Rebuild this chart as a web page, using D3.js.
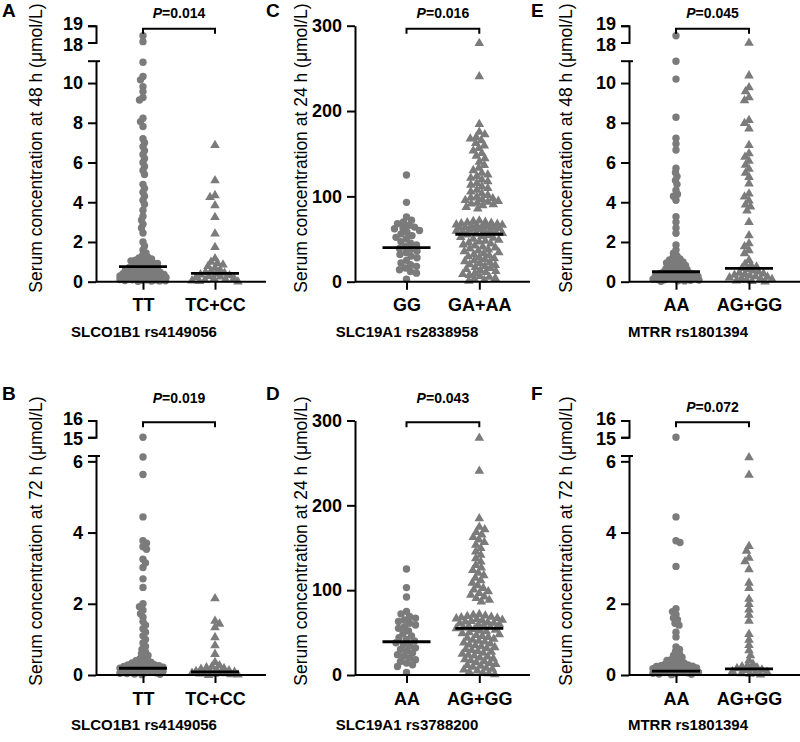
<!DOCTYPE html>
<html><head><meta charset="utf-8">
<script src="https://cdn.jsdelivr.net/npm/d3@7"></script>
<style>body{margin:0;background:#fff}svg{display:block}</style>
</head><body>
<script>
// ---------- DATA ----------
const panelIds = ["A","B","C","D","E","F"];
const geneLabels = ["SLCO1B1 rs4149056","SLCO1B1 rs4149056","SLC19A1 rs2838958","SLC19A1 rs3788200","MTRR rs1801394","MTRR rs1801394"];
const groupLabels = [["TT","TC+CC"],["TT","TC+CC"],["GG","GA+AA"],["AA","AG+GG"],["AA","AG+GG"],["AA","AG+GG"]];
const yTitles = ["Serum concentration at 48 h (μmol/L)","Serum concentration at 72 h (μmol/L)","Serum concentration at 24 h (μmol/L)","Serum concentration at 24 h (μmol/L)","Serum concentration at 48 h (μmol/L)","Serum concentration at 72 h (μmol/L)"];
const pValues = ["0.014","0.019","0.016","0.043","0.045","0.072"];
const medians = [[0.76,0.42],[0.19,0.09],[40,55.6],[39.2,55],[0.5,0.67],[0.11,0.17]];

const ticks48Lower = [0,2,4,6,8,10], ticks48Upper = [18,19];
const ticks72Lower = [0,2,4,6],      ticks72Upper = [15,16];
const ticks24 = [0,100,200,300];
const axis48 = {lowerMax:11.1, upperMin:18, upperMax:19};
const axis72 = {lowerMax:6.15, upperMin:15, upperMax:16};
const axis24 = {max:300};

const aTT = [18.4,18.05,11.05,10.33,10.16,9.82,9.57,9.27,9.15,8.23,8.06,7.81,7.2,7.0,6.8,6.6,6.4,6.2,6.0,5.8,5.6,5.4,4.9,4.7,4.5,4.3,4.1,3.9,3.6,3.3,3.1,2.9,2.7,2.45,2.0,1.8,1.6,1.45,1.32,1.25,1.2,1.15,1.12,1.08,1.05,1.02,0.98,0.95,0.92,0.88,0.85,0.82,0.78,0.75,0.72,0.7,0.68,0.65,0.62,0.6,0.58,0.55,0.53,0.5,0.48,0.46,0.44,0.42,0.4,0.38,0.37,0.35,0.34,0.32,0.3,0.29,0.28,0.26,0.25,0.24,0.22,0.21,0.2,0.18,0.17,0.16,0.15,0.14,0.12,0.11,0.1,0.09,0.08,0.07,0.06,0.05,0.04,0.03,0.02];
const aTC = [6.89,5.12,4.37,4.28,3.86,3.27,2.44,1.76,1.19,1.02,0.95,0.88,0.8,0.72,0.62,0.55,0.5,0.46,0.42,0.38,0.34,0.3,0.27,0.24,0.2,0.17,0.14,0.11,0.08,0.05,0.03];
const bTT = [15.0,6.12,5.63,4.44,3.77,3.7,3.6,3.53,3.25,3.15,3.02,2.7,2.46,2.0,1.92,1.82,1.72,1.62,1.5,1.4,1.3,1.2,1.1,1.0,0.9,0.8,0.72,0.65,0.6,0.55,0.5,0.46,0.43,0.4,0.38,0.36,0.34,0.32,0.3,0.29,0.28,0.27,0.26,0.25,0.24,0.23,0.22,0.21,0.2,0.19,0.18,0.17,0.16,0.15,0.14,0.13,0.12,0.11,0.1,0.09,0.08,0.07,0.06,0.05,0.04,0.03,0.02,0.01];
const bTC = [2.16,1.53,1.45,1.35,1.07,0.84,0.6,0.37,0.28,0.25,0.22,0.2,0.18,0.16,0.14,0.12,0.11,0.1,0.09,0.08,0.07,0.06,0.05,0.04,0.03,0.02,0.01];
const cGG = [125,93,76,72,70,68,66,64,63,62,60,58,56,54,52,50,47,45,43,41,39,38,36,34,32,30,28,25,22,20,18,16,14,12,10,3];
const cGA = [280,241,185,176,173,170,168,166,163,160,157,154,151,148,145,141,137,134,131,128,126,124,122,120,118,116,114,112,110,108,106,104,102,100,99,98,97,96,95,94,93,92,91,90,88,86,72,71.5,70.4,70,69.2,68.7,68,67.5,67,66.3,66,65.4,65,64.2,64,63.5,63,62.4,62,61.3,61,60.5,60,59.2,58.4,57.5,56.6,55.7,54.8,53.9,52.8,51.7,50.6,49.5,48.4,47.3,46.2,45.1,44,42.8,41.6,40.5,39.3,38.2,37,35.9,34.7,33.6,32.4,31.3,30.1,29,27.8,26.7,25.5,24.4,23.2,22.1,20.9,19.8,18.6,17.5,16.3,15.2,14,12.9,11.7,10.6,9.4,8.3,7.1,6,4.8,3.7,2.5,1.4];
const dAA = [125,103,92,75,72,69,67,65,63,61,59,57,55,52,49,46,44,42,40,38,36,34,32,30,28,26,24,22,20,18,16,14,12,10,3];
const dAG = [280,241,185,175,172,169,166,163,160,157,154,150,146,142,138,134,130,127,124,121,118,115,112,109,106,103,101,99,97,95,93,91,89,87,72,71.2,70.5,69.8,69,68.3,67.6,67,66.2,65.5,64.8,64,63.3,62.6,62,61.2,60.5,59.8,59,58.2,57.3,56.4,55.5,54.6,53.7,52.8,51.8,50.7,49.6,48.5,47.4,46.3,45.2,44.1,43,41.9,40.8,39.7,38.6,37.5,36.4,35.3,34.2,33.1,32,30.9,29.8,28.7,27.6,26.5,25.4,24.3,23.2,22.1,21,19.9,18.8,17.7,16.6,15.5,14.4,13.3,12.2,11.1,10,8.9,7.8,6.7,5.6,4.5,3.4,2.3,1.2];
const eAA = [18.4,11.1,10.2,8.28,7.22,6.94,6.63,5.71,5.5,5.3,5.1,4.9,4.6,4.4,4.3,4.1,3.27,3.0,2.7,2.44,1.85,1.6,1.43,1.3,1.22,1.15,1.1,1.05,1.0,0.95,0.9,0.86,0.82,0.78,0.74,0.7,0.66,0.62,0.58,0.55,0.52,0.49,0.46,0.44,0.42,0.4,0.38,0.36,0.34,0.32,0.3,0.28,0.27,0.25,0.24,0.22,0.2,0.19,0.17,0.16,0.14,0.13,0.11,0.1,0.08,0.07,0.05,0.04,0.02];
const eAG = [18.0,10.4,9.8,9.6,9.3,9.15,8.15,8.0,7.73,6.89,6.48,6.3,6.1,5.9,5.7,5.5,5.29,4.96,4.45,4.3,4.1,3.9,3.8,3.6,3.02,2.35,1.95,1.8,1.6,1.45,1.1,0.92,0.85,0.78,0.7,0.64,0.58,0.52,0.47,0.43,0.4,0.36,0.32,0.29,0.26,0.23,0.2,0.17,0.14,0.11,0.08,0.05,0.03];
const fAA = [15.0,4.44,3.77,3.72,3.05,1.86,1.78,1.7,1.6,1.55,1.45,1.4,1.2,1.07,0.79,0.72,0.66,0.6,0.55,0.5,0.47,0.44,0.41,0.38,0.36,0.34,0.32,0.3,0.28,0.27,0.26,0.25,0.24,0.23,0.22,0.21,0.2,0.19,0.18,0.17,0.16,0.15,0.14,0.13,0.12,0.11,0.1,0.09,0.08,0.07,0.06,0.05,0.04,0.03,0.02,0.01];
const fAG = [6.12,5.63,3.63,3.5,3.3,3.2,2.98,2.6,2.45,2.15,2.0,1.85,1.7,1.53,1.16,1.0,0.85,0.7,0.56,0.42,0.32,0.28,0.25,0.22,0.2,0.18,0.16,0.14,0.12,0.1,0.08,0.06,0.04,0.02];

const seriesByPanel = [[aTT,aTC],[bTT,bTC],[cGG,cGA],[dAA,dAG],[eAA,eAG],[fAA,fAG]];
const axisTypeByPanel = ["48","72","24","24","48","72"];

// ---------- LAYOUT ----------
const FONT = "'Liberation Sans', Arial, Helvetica, sans-serif";
const cols = [
  {ax:96,  w:170, c:[47,119],     lx:42,  tx:144, letterX:2},
  {ax:355, w:175, c:[51.5,124.3], lx:307, tx:407, letterX:266},
  {ax:629, w:171, c:[47,120],     lx:572, tx:688, letterX:531}
];
const rows = [
  {top:25.7,  bot:281.7, brk:28.7,  letterY:17,  labelY:148, titleY:337},
  {top:420.5, bot:675,   brk:422.3, letterY:400, labelY:541, titleY:730}
];
const pTextY = [18,403,18,403,18,411.5];
const GREY = "#7b7b7b";

const svg = d3.select("body").append("svg").attr("width",800).attr("height",742)
  .style("font-family",FONT);

function swarm(vals, cx, yf, r, maxW, seed){
  const nodes = vals.map(v=>({v, y:yf(v)})).sort((a,b)=>a.y-b.y);
  const placed = [];
  const d2 = (2*r)*(2*r);
  nodes.forEach((n,i)=>{
    const sgn = (i+seed)%2 ? 1 : -1;
    const cands = [0];
    for(let s=0.5;s<=maxW;s+=0.5){cands.push(sgn*s,-sgn*s);}
    let best=0, bestScore=-1;
    for(const off of cands){
      let m = Infinity;
      for(const p of placed){
        const dy = p.y-n.y; if(Math.abs(dy)>=2*r) continue;
        const dx = p.x-(cx+off); const dd = dx*dx+dy*dy;
        if(dd<m) m=dd;
      }
      if(m>=d2){best=off;bestScore=Infinity;break;}
      if(m>bestScore){bestScore=m;best=off;}
    }
    n.x = cx+best; placed.push(n);
  });
  return nodes;
}

panelIds.forEach((id,pi)=>{
  const col = cols[Math.floor(pi/2)], row = rows[pi%2];
  const g = svg.append("g");
  const type = axisTypeByPanel[pi];
  let yf, lowScale, upScale=null, lowTicks, upTicks;
  if(type==="24"){
    lowScale = d3.scaleLinear().domain([0,axis24.max]).range([row.bot,row.top]);
    lowTicks = ticks24; yf = v=>lowScale(v);
  } else {
    const ax = type==="48"?axis48:axis72;
    lowTicks = type==="48"?ticks48Lower:ticks72Lower;
    upTicks  = type==="48"?ticks48Upper:ticks72Upper;
    lowScale = d3.scaleLinear().domain([0,ax.lowerMax]).range([row.bot,row.top+35.5]);
    upScale  = d3.scaleLinear().domain([ax.upperMin,ax.upperMax]).range([row.top+16.8,row.top]);
    yf = v=> v>=ax.upperMin ? upScale(v) : lowScale(v);
  }
  const x = d3.scalePoint().domain(groupLabels[pi]).range([col.ax+col.c[0], col.ax+col.c[1]]);

  // points
  seriesByPanel[pi].forEach((vals,gi)=>{
    const cx = x(groupLabels[pi][gi]);
    const collideR = type==="24" ? 2.9 : (gi===0 ? 2.1 : 2.6);
    const nodes = swarm(vals,cx,yf,collideR,23,gi);
    if(gi===0){
      g.append("g").selectAll("circle").data(nodes).join("circle")
        .attr("cx",d=>d.x).attr("cy",d=>d.y).attr("r",3.7).attr("fill",GREY);
    } else {
      const tri = d3.symbol().type(d3.symbolTriangle).size(40);
      g.append("g").selectAll("path").data(nodes).join("path")
        .attr("d",tri).attr("transform",d=>`translate(${d.x},${d.y+0.5})`).attr("fill",GREY);
    }
  });

  // medians
  g.append("g").selectAll("line").data(medians[pi]).join("line")
    .attr("x1",(d,i)=>x(groupLabels[pi][i])-24).attr("x2",(d,i)=>x(groupLabels[pi][i])+24)
    .attr("y1",d=>yf(d)).attr("y2",d=>yf(d)).attr("stroke","#000").attr("stroke-width",2.8);

  // y axis
  g.append("g").attr("transform",`translate(${col.ax},0)`)
    .call(d3.axisLeft(lowScale).tickValues(lowTicks).tickSize(8).tickSizeOuter(0).tickPadding(5).tickFormat(d3.format("d")));
  if(upScale){
    const up = g.append("g").attr("transform",`translate(${col.ax},0)`)
      .call(d3.axisLeft(upScale).tickValues(upTicks).tickSize(8).tickSizeOuter(8).tickPadding(5).tickFormat(d3.format("d")));
    up.selectAll(".tick text").attr("dy",(d,i)=> i===0 ? "0.42em" : "0.22em");
    g.append("line").attr("x1",col.ax-8).attr("x2",col.ax+4)
      .attr("y1",lowScale.range()[1]).attr("y2",lowScale.range()[1]).attr("stroke","#000").attr("stroke-width",2);
  }
  // x axis
  g.append("line").attr("x1",col.ax).attr("x2",col.ax+col.w).attr("y1",row.bot).attr("y2",row.bot)
    .attr("stroke","#000").attr("stroke-width",2);
  const xAx = g.append("g").attr("transform",`translate(0,${row.bot})`)
    .call(d3.axisBottom(x).tickSize(8).tickSizeOuter(0).tickPadding(9));
  xAx.select(".domain").remove();

  g.selectAll(".tick line").attr("stroke","#000").attr("stroke-width",2);
  g.selectAll(".domain").attr("stroke","#000").attr("stroke-width",2);
  g.selectAll(".tick text").attr("font-family",FONT).attr("font-size",18).attr("font-weight","bold").attr("fill","#000");

  // bracket
  const x1 = x(groupLabels[pi][0]), x2 = x(groupLabels[pi][1]);
  g.append("path").attr("d",`M${x1},${row.brk+5}V${row.brk}H${x2}V${row.brk+5}`)
    .attr("fill","none").attr("stroke","#000").attr("stroke-width",2);
  const pt = g.append("text").attr("x",(x1+x2)/2).attr("y",pTextY[pi]).attr("text-anchor","middle")
    .attr("font-size",14).attr("font-weight","bold");
  pt.append("tspan").attr("font-style","italic").text("P");
  pt.append("tspan").text("=" + pValues[pi]);

  // y title
  g.append("text").attr("transform",`translate(${col.lx},${row.labelY}) rotate(-90)`)
    .attr("text-anchor","middle").attr("font-size",17.5).text(yTitles[pi]);
  // gene title
  g.append("text").attr("x",col.tx).attr("y",row.titleY).attr("text-anchor","middle")
    .attr("font-size",15).attr("font-weight","bold").text(geneLabels[pi]);
  // panel letter
  g.append("text").attr("x",col.letterX).attr("y",row.letterY).attr("font-size",19)
    .attr("font-weight","bold").text(id);
});
</script>
</body></html>
